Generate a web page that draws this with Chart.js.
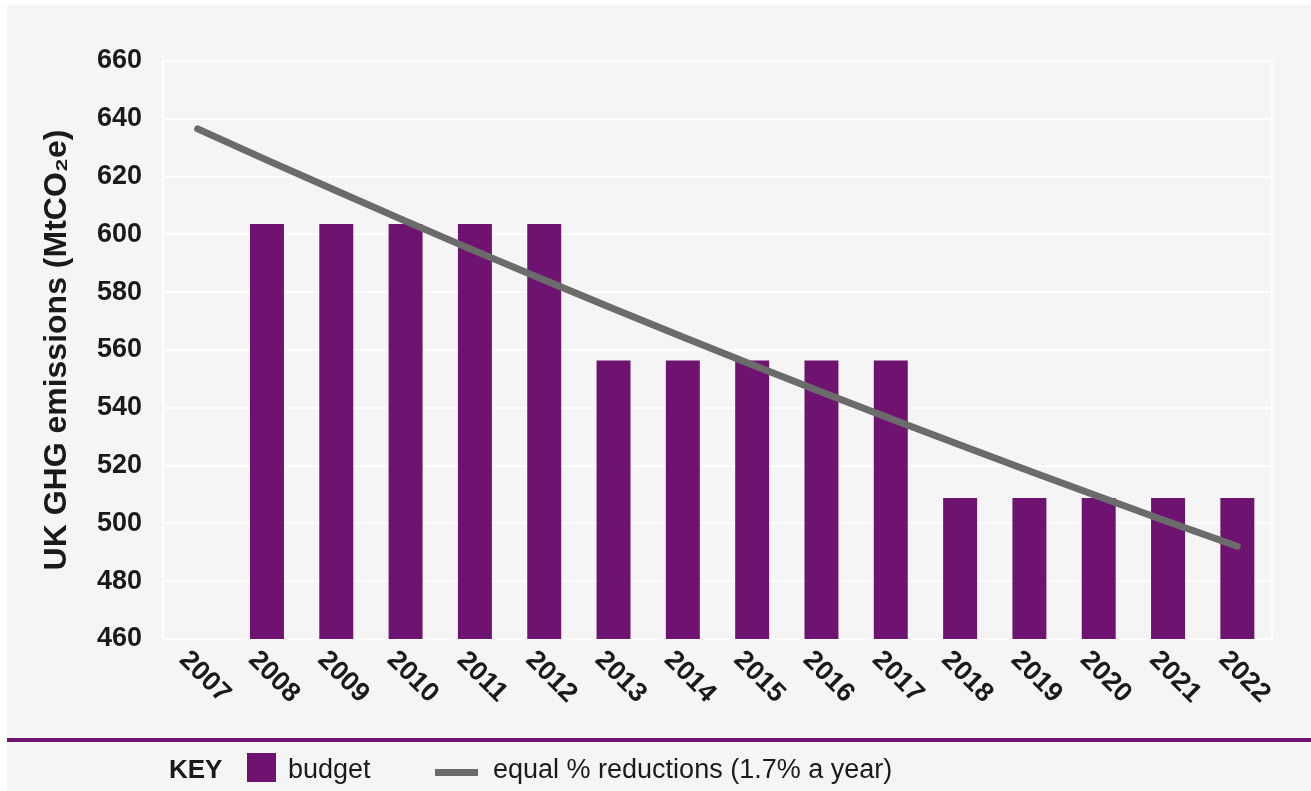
<!DOCTYPE html>
<html>
<head>
<meta charset="utf-8">
<script src="https://cdn.jsdelivr.net/npm/chart.js@4"></script>
<style>
  html, body { margin: 0; padding: 0; background: #ffffff; width: 1311px; height: 791px; overflow: hidden; }
  #panel { position: absolute; left: 7px; top: 5px; width: 1304px; height: 786px; background: #f5f5f5; }
  #c { position: absolute; left: 0; top: 0; }
  #rule { position: absolute; left: 7px; top: 738px; width: 1304px; height: 4px; background: #6e1470; }
  .lg { position: absolute; font-family: "Liberation Sans", Arial, sans-serif; font-size: 27px; line-height: 30px; color: #1a1a1a; top: 754px; }
  #key { left: 169px; font-weight: bold; font-size: 26px; }
  #sw1 { position: absolute; left: 247px; top: 753px; width: 29px; height: 29px; background: #6e1470; }
  #t1 { left: 288px; }
  #sw2 { position: absolute; left: 435px; top: 769px; width: 43px; height: 7px; background: #6b6b6b; }
  #t2 { left: 493px; }
</style>
</head>
<body>
<div id="panel"></div>
<canvas id="c" width="1311" height="791"></canvas>
<div id="rule"></div>
<div class="lg" id="key">KEY</div>
<div id="sw1"></div>
<div class="lg" id="t1">budget</div>
<div id="sw2"></div>
<div class="lg" id="t2">equal % reductions (1.7% a year)</div>
<script>
const years = ['2007','2008','2009','2010','2011','2012','2013','2014','2015','2016','2017','2018','2019','2020','2021','2022'];
const budget = [null, 603.6, 603.6, 603.6, 603.6, 603.6, 556.4, 556.4, 556.4, 556.4, 556.4, 508.8, 508.8, 508.8, 508.8, 508.8];
const equalReductions = [636.5, 625.7, 615.1, 604.6, 594.3, 584.2, 574.3, 564.5, 554.9, 545.5, 536.2, 527.1, 518.1, 509.3, 500.6, 492.1];
const yTicks = [460, 480, 500, 520, 540, 560, 580, 600, 620, 640, 660];
const yTitle = 'UK GHG emissions (MtCO\u2082e)';

const FONT = '"Liberation Sans", Arial, sans-serif';

const frame = {
  id: 'frame',
  beforeDatasetsDraw(chart) {
    const {ctx, chartArea} = chart;
    ctx.save();
    ctx.strokeStyle = '#ffffff';
    ctx.lineWidth = 2;
    ctx.beginPath();
    ctx.moveTo(chartArea.right, chartArea.top);
    ctx.lineTo(chartArea.right, chartArea.bottom);
    ctx.stroke();
    ctx.restore();
  }
};

const xLabels = {
  id: 'xLabels',
  afterDraw(chart) {
    const {ctx, chartArea} = chart;
    const xs = chart.scales.x;
    ctx.save();
    ctx.font = 'bold 27px ' + FONT;
    ctx.fillStyle = '#1a1a1a';
    ctx.textAlign = 'center';
    ctx.textBaseline = 'middle';
    years.forEach((y, i) => {
      const px = xs.getPixelForValue(i) + 7;
      const py = chartArea.bottom + 38;
      ctx.save();
      ctx.translate(px, py);
      ctx.rotate(Math.PI / 4);
      ctx.fillText(y, 0, 0);
      ctx.restore();
    });
    ctx.restore();
  }
};

new Chart(document.getElementById('c'), {
  data: {
    labels: years,
    datasets: [
      {
        type: 'line',
        label: 'equal % reductions (1.7% a year)',
        data: equalReductions,
        borderColor: '#6b6b6b',
        borderWidth: 7,
        borderCapStyle: 'round',
        borderJoinStyle: 'round',
        pointRadius: 0,
        tension: 0,
        fill: false,
        order: 0
      },
      {
        type: 'bar',
        label: 'budget',
        data: budget,
        backgroundColor: '#6e1470',
        borderWidth: 0,
        categoryPercentage: 1,
        barPercentage: 0.49,
        order: 1
      }
    ]
  },
  options: {
    responsive: false,
    animation: false,
    devicePixelRatio: 1,
    layout: { padding: { top: 61, right: 39, left: 0, bottom: 0 } },
    plugins: { legend: { display: false }, tooltip: { enabled: false } },
    scales: {
      x: {
        type: 'category',
        offset: true,
        grid: { display: false },
        border: { display: false },
        ticks: { display: false },
        afterFit(scale) { scale.height = 152; }
      },
      y: {
        type: 'linear',
        min: yTicks[0],
        max: yTicks[yTicks.length - 1],
        afterBuildTicks(scale) { scale.ticks = yTicks.map(v => ({ value: v })); },
        grid: { color: '#ffffff', lineWidth: 2, drawTicks: false },
        border: { display: true, color: '#ffffff', width: 2 },
        ticks: {
          padding: 21,
          color: '#1a1a1a',
          font: { family: FONT, size: 27, weight: 'bold' }
        },
        title: {
          display: true,
          text: yTitle,
          color: '#1a1a1a',
          font: { family: FONT, size: 32, weight: 'bold' },
          padding: { top: 38, bottom: 0 }
        },
        afterFit(scale) { scale.width = 163; }
      }
    }
  },
  plugins: [frame, xLabels]
});
</script>
</body>
</html>
